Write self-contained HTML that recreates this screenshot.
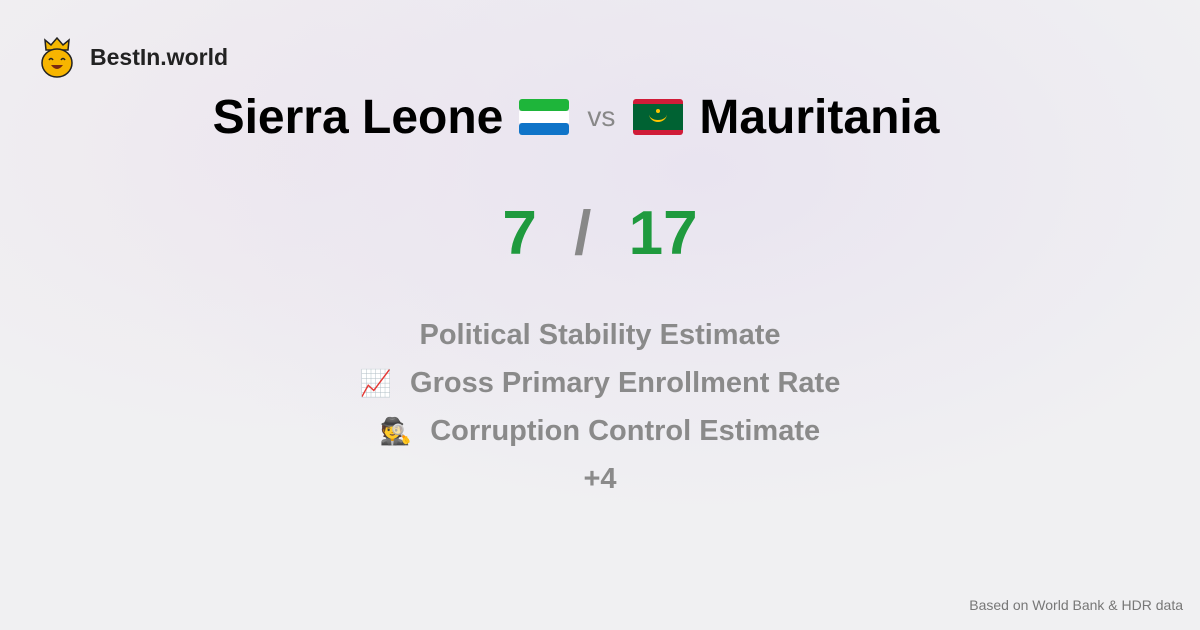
<!DOCTYPE html>
<html><head><meta charset="utf-8"><style>
body{margin:0;width:1200px;height:630px;overflow:hidden;font-family:"Liberation Sans",sans-serif;}
.bg{position:absolute;inset:0;background:radial-gradient(ellipse 600px 350px at 700px 170px,#e9e4f0 0%,rgba(233,228,240,0) 100%),radial-gradient(ellipse 500px 300px at 300px 150px,#eee8ef 0%,rgba(238,232,239,0) 100%),#f0f0f2;}
.abs{position:absolute}
.row{position:absolute;left:0;width:1200px;display:flex;justify-content:center;align-items:center;font-weight:bold;color:#8a8a8a;font-size:29px;height:40px}
</style></head><body>
<div class="bg"></div>
<div class="abs" style="left:40px;top:36px;width:34px;height:42px">
<svg width="34" height="42" viewBox="0 0 34 42"><path d="M6 14 L5 4 L11 9 L17 2 L23 9 L29 4 L28 14 Z" fill="#f5b800" stroke="#222" stroke-width="1.5"/><ellipse cx="17" cy="27" rx="15" ry="14" fill="#f7b500" stroke="#222" stroke-width="1.5"/><path d="M9 24 q2-3 4 0 M21 24 q2-3 4 0" stroke="#222" stroke-width="1.5" fill="none"/><path d="M11 29 q6 8 12 0 z" fill="#7a2a10"/></svg></div>
<div class="abs" style="left:90px;top:44px;font-size:23px;font-weight:bold;color:#222">BestIn.world</div>
<div class="abs" style="left:0;top:88px;width:1200px;height:58px;display:flex;justify-content:center;align-items:center;gap:16px;margin-left:-24px">
<span style="font-size:48px;font-weight:bold;color:#000">Sierra Leone</span>
<svg width="50" height="36" viewBox="0 0 50 36"><rect width="50" height="12" rx="3" fill="#1eb53a"/><rect y="12" width="50" height="12" fill="#fff"/><rect y="24" width="50" height="12" rx="3" fill="#0f74c8"/></svg>
<span style="font-size:28px;color:#888;margin:0 2px">vs</span>
<svg width="50" height="36" viewBox="0 0 50 36"><rect width="50" height="36" rx="3" fill="#d01c38"/><rect y="5" width="50" height="26" fill="#006233"/><path d="M16 15 a9 8 0 0 0 18 0 a9 6 0 0 1 -18 0z" fill="#ffc400"/><circle cx="25" cy="12" r="2" fill="#ffc400"/></svg>
<span style="font-size:48px;font-weight:bold;color:#000">Mauritania</span>
</div>
<div class="abs" style="left:0;top:198px;width:1200px;text-align:center;font-size:62px;font-weight:bold;color:#1f9a3e">7 <span style="color:#888;margin:0 20px">/</span> 17</div>
<div class="row" style="top:315px">Political Stability Estimate</div>
<div class="row" style="top:363px"><span style="font-size:26px;margin-right:18px">📈</span>Gross Primary Enrollment Rate</div>
<div class="row" style="top:411px"><span style="font-size:26px;margin-right:18px">🕵️</span>Corruption Control Estimate</div>
<div class="row" style="top:459px">+4</div>
<div class="abs" style="right:17px;top:597px;font-size:14px;color:#777">Based on World Bank &amp; HDR data</div>
</body></html>
